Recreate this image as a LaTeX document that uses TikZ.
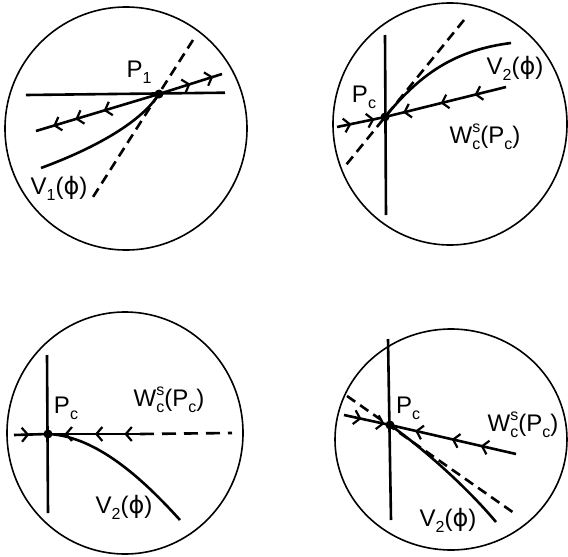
\documentclass[tikz,border=0pt]{standalone}
\usepackage{fontspec}
\setmainfont{Liberation Sans}
\newfontfamily\phifont{DejaVu Sans}
\usetikzlibrary{arrows.meta,decorations.markings}
\newcommand{\mysub}[1]{\raisebox{-6pt}{\fontsize{16}{16}\selectfont #1}}
\newcommand{\mysubsup}[2]{\rlap{\raisebox{11pt}{\fontsize{16}{16}\selectfont #2}}\raisebox{-6pt}{\fontsize{16}{16}\selectfont #1}}
\newcommand{\Wlab}{W\mysubsup{c}{s}(P\mysub{c})}
\newcommand{\Vlab}[1]{V\mysub{#1}({\phifont ϕ})}
\tikzset{
  rim/.style={line width=1.6pt},
  traj/.style={line width=2.6pt},
  guide/.style={line width=2.6pt, dash pattern=on 10pt off 6pt},
  dot/.style={circle, fill=black, inner sep=0pt, minimum size=9pt},
  lbl/.style={inner sep=0pt, font=\fontsize{24}{28}\selectfont},
  chv/.style={postaction={decorate, decoration={markings, mark=at position #1 with {\arrow[line width=2.2pt]{Straight Barb[length=6pt,width=14pt]}}}}}
}
\begin{document}
\begin{tikzpicture}[x=1pt,y=-1pt]
\useasboundingbox (0,0) rectangle (568,557);
% ---------- circle 1 ----------
\draw[rim] (126,128.5) ellipse [x radius=121, y radius=121.5];
\node[dot] (p1) at (159,94) {};
\coordinate (a1l) at (26,95);  \coordinate (a1r) at (225,92.7);
\coordinate (w1l) at (36,131); \coordinate (w1r) at (222,74);
\coordinate (d1t) at (193,40); \coordinate (d1b) at (93,197);
\coordinate (v1e) at (41,168);
\draw[traj] (a1l) -- (a1r);
\draw[traj, chv=0.45, chv=0.68, chv=0.86] (p1.center) -- (w1l);
\draw[traj, chv=0.5, chv=0.86] (p1.center) -- (w1r);
\draw[guide] (d1t) -- (d1b);
\draw[traj] (v1e) .. controls (90,150) and (140,124) .. (p1.center);
\node[lbl] (l1p) at (139,72) {P\mysub{1}};
\node[lbl] (l1v) at (59,188) {\Vlab{1}};
% ---------- circle 2 ----------
\draw[rim] (450,124) ellipse [x radius=117, y radius=121];
\node[dot] (p2) at (385,117) {};
\coordinate (a2t) at (385,35);  \coordinate (a2b) at (386,215);
\coordinate (w2l) at (337,127); \coordinate (w2r) at (506,87);
\coordinate (d2t) at (464,20);  \coordinate (d2b) at (346,165);
\coordinate (v2e) at (511,43);
\draw[traj] (a2t) -- (a2b);
\draw[traj, chv=0.3, chv=0.78] (w2l) -- (p2.center);
\draw[traj, chv=0.26, chv=0.54, chv=0.85] (w2r) -- (p2.center);
\draw[guide] (d2t) -- (d2b);
\draw[traj] (p2.center) .. controls (420,74) and (455,50) .. (v2e);
\node[lbl] (l2p) at (364,97) {P\mysub{c}};
\node[lbl] (l2v) at (515,68) {\Vlab{2}};
\node[lbl] (l2w) at (485,137) {\Wlab};
% ---------- circle 3 ----------
\draw[rim] (125,433) ellipse [x radius=118, y radius=121];
\node[dot] (p3) at (48,434) {};
\coordinate (a3t) at (47,355);  \coordinate (a3b) at (48,513);
\coordinate (w3l) at (14,435);  \coordinate (w3m) at (140,434);
\coordinate (w3r) at (232,433);
\coordinate (v3e) at (180,520);
\draw[traj] (a3t) -- (a3b);
\draw[traj, chv=0.45] (w3l) -- (p3.center);
\draw[traj, chv=0.17, chv=0.49, chv=0.82] (w3m) -- (p3.center);
\draw[guide, dash pattern=on 14pt off 8pt] (w3m) -- (w3r);
\draw[traj] (p3.center) .. controls (100,436) and (150,487) .. (v3e);
\node[lbl] (l3p) at (66,408) {P\mysub{c}};
\node[lbl] (l3w) at (169,400) {\Wlab};
\node[lbl] (l3v) at (124,507) {\Vlab{2}};
% ---------- circle 4 ----------
\draw[rim] (451,439.5) ellipse [x radius=116, y radius=110.5];
\node[dot] (p4) at (390,425) {};
\coordinate (a4t) at (388,339); \coordinate (a4b) at (391,520);
\coordinate (w4l) at (344,415); \coordinate (w4r) at (516,454);
\coordinate (d4t) at (347,396); \coordinate (d4b) at (514,513);
\coordinate (v4e) at (496,522);
\draw[traj] (a4t) -- (a4b);
\draw[traj, chv=0.38, chv=0.88] (w4l) -- (p4.center);
\draw[traj, chv=0.28, chv=0.51, chv=0.8] (w4r) -- (p4.center);
\draw[guide] (d4t) -- (d4b);
\draw[traj] (p4.center) .. controls (420,446) and (465,485) .. (v4e);
\node[lbl] (l4p) at (408,408) {P\mysub{c}};
\node[lbl] (l4w) at (523,425) {\Wlab};
\node[lbl] (l4v) at (448,520) {\Vlab{2}};
\end{tikzpicture}
\end{document}
